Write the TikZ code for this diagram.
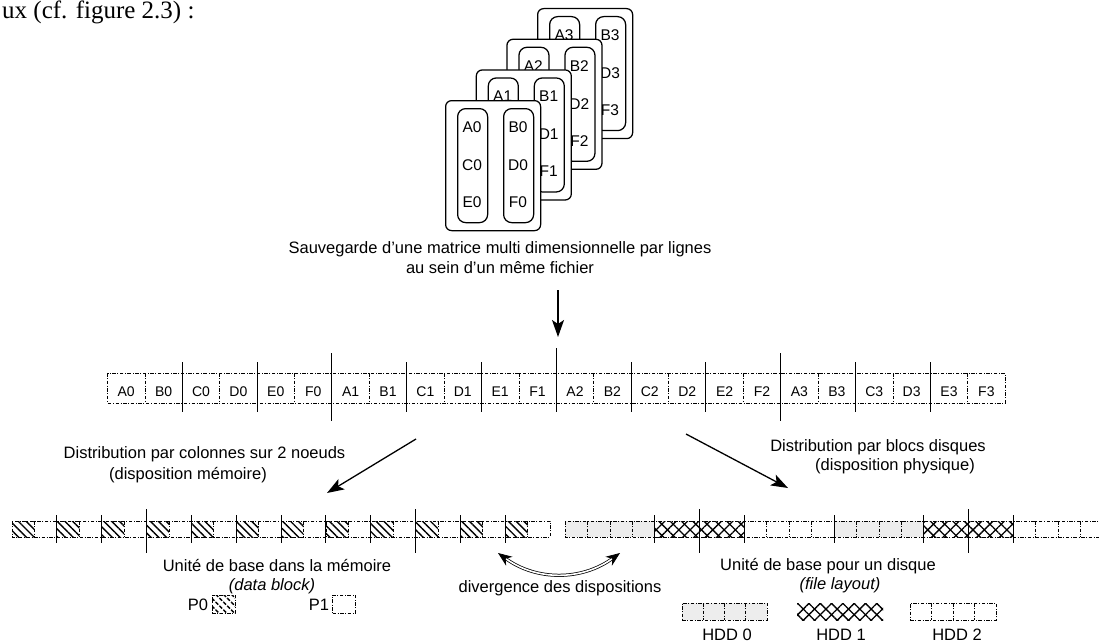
\documentclass[tikz,border=0pt]{standalone}
\usepackage{fontspec}
\setmainfont{Liberation Sans}
\newfontfamily\serifdoc{Liberation Serif}
\usetikzlibrary{arrows.meta,patterns.meta,calc}

\tikzset{
  ddash/.style={line width=0.7pt, dash pattern=on 3.5pt off 1.6pt on 0.9pt off 1.6pt},
  tick/.style={line width=1pt},
  hatch/.style={pattern={Lines[angle=-45,distance=5.5pt,line width=1.4pt]}},
  xhatch/.style={pattern={Lines[angle=45,distance=8pt,line width=1.3pt]},
                 postaction={pattern={Lines[angle=-45,distance=8pt,line width=1.3pt]}}},
  grayfill/.style={fill=black!7},
  txt/.style={font=\fontsize{16.5}{20}\selectfont, inner sep=0pt},
  itxt/.style={font=\fontsize{16.5}{20}\selectfont\itshape, inner sep=0pt},
  cellt/.style={font=\fontsize{14}{16}\selectfont, inner sep=0pt},
  pagelbl/.style={font=\fontsize{15.5}{17}\selectfont, inner sep=0pt},
  sheet/.style={draw, line width=1.25pt, fill=white, rounded corners=6pt,
                minimum width=95pt, minimum height=130pt, inner sep=0pt, anchor=north west},
  column/.style={draw, line width=1.25pt, rounded corners=8pt,
                 minimum width=30pt, minimum height=114pt, inner sep=0pt, anchor=north west},
  legbox/.style={ddash, draw, minimum width=23pt, minimum height=18pt, inner sep=0pt},
  bigarrow/.style={line width=1.3pt, -{Stealth[length=17pt,width=12pt,inset=4pt]}},
  dblarrow/.style={double, double distance=1.6pt, line width=0.75pt,
                   {Stealth[length=14pt,width=11pt]}-{Stealth[length=14pt,width=11pt]}},
}

\begin{document}
\begin{tikzpicture}[x=1pt,y=-1pt]
\useasboundingbox (0,0) rectangle (1099,643);
\clip (0,0) rectangle (1099,643);

% running text of the page above the figure
\node[anchor=base west, inner sep=0pt, font=\serifdoc\fontsize{25}{30}\selectfont] (runin) at (2,18) {ux (cf. figure 2.3) :};

% ---- stacked sheets: one matrix slice per sheet (back to front) ----
\foreach \k in {3,2,1,0} {
  \pgfmathsetmacro\px{445+30.67*\k}
  \pgfmathsetmacro\py{100-30.67*\k}
  \node[sheet]  (pg\k) at (\px,\py) {};
  \node[column] (cl\k) at (\px+12,\py+8) {};
  \node[column] (cr\k) at (\px+58,\py+8) {};
  \node[pagelbl] (la\k) at (\px+27,\py+27)  {A\k};
  \node[pagelbl] (lb\k) at (\px+73,\py+27)  {B\k};
  \node[pagelbl] (ld\k) at (\px+73,\py+65)  {D\k};
  \node[pagelbl] (lf\k) at (\px+73,\py+102) {F\k};
}
% lower cells of the left column, only visible on the front sheet
\node[pagelbl] (lc0) at (472,165) {C0};
\node[pagelbl] (le0) at (472,202) {E0};

\node[txt, align=center] (cap) at (500,258)
  {Sauvegarde d’une matrice multi dimensionnelle par lignes\\au sein d’un même fichier};

\coordinate (va) at (558,290);
\coordinate (vb) at (558,337);
\draw[bigarrow] (va) -- (vb);

% ---- linear file: 24 cells ----
\foreach \t [count=\i from 0] in {A0,B0,C0,D0,E0,F0,A1,B1,C1,D1,E1,F1,A2,B2,C2,D2,E2,F2,A3,B3,C3,D3,E3,F3}
  \node[cellt] (m\i) at (107.5+37.4*\i+18.7,392) {\t};
\draw[ddash] (107.5,373) rectangle (1005,403);
\foreach \i in {1,3,...,23}
  \draw[ddash] (107.5+37.4*\i,373) -- ++(0,30);
\foreach \i/\ya/\yb in {2/362/412,4/362/412,6/353/421,8/362/412,10/362/412,12/348/412,
                        14/362/412,16/362/412,18/353/421,20/362/412,22/362/412}
  \draw[tick] (107.5+37.4*\i,\ya) -- (107.5+37.4*\i,\yb);

% ---- labels and arrows of the two distributions ----
\node[txt] (dl1) at (204.5,454) {Distribution par colonnes sur 2 noeuds};
\node[txt] (dl2) at (188,475) {(disposition mémoire)};
\node[txt] (dr1) at (878,447) {Distribution par blocs disques};
\node[txt] (dr2) at (895,466) {(disposition physique)};
\coordinate (lsa) at (416,439);
\coordinate (lsb) at (327,493);
\draw[bigarrow] (lsa) -- (lsb);
\coordinate (rsa) at (686,434);
\coordinate (rsb) at (788,488);
\draw[bigarrow] (rsa) -- (rsb);

% ---- memory layout: P0 / P1 alternating ----
\foreach \p in {0,...,11}
  \fill[hatch] (12+44.84*\p,521) rectangle ++(22.42,16);
\draw[ddash] (12,521) rectangle (550,537);
\foreach \j in {1,...,23}
  \draw[ddash] (12+22.42*\j,521) -- ++(0,16);
\foreach \j/\ya/\yb in {2/515/543,4/515/543,6/509/553,8/515/543,10/515/543,12/515/543,
                        14/515/543,16/515/543,18/509/553,20/515/543,22/515/543}
  \draw[tick] (12+22.42*\j,\ya) -- (12+22.42*\j,\yb);

% ---- disk layout: HDD 0 / HDD 1 / HDD 2 in blocks of four ----
\fill[grayfill] (565,521) rectangle ++(89.68,16);
\fill[grayfill] (565+12*22.42,521) rectangle ++(89.68,16);
\fill[xhatch] (565+4*22.42,521) rectangle ++(89.68,16);
\fill[xhatch] (565+16*22.42,521) rectangle ++(89.68,16);
\draw[ddash] (565,521) rectangle (1103.1,537);
\foreach \j in {1,2,3,9,10,11,13,14,15,21,22,23}
  \draw[ddash] (565+22.42*\j,521) -- ++(0,16);
\foreach \j/\ya/\yb in {4/515/543,6/509/553,8/515/543,12/515/543,16/515/543,18/509/553,20/515/543}
  \draw[tick] (565+22.42*\j,\ya) -- (565+22.42*\j,\yb);

% ---- legend of the memory layout ----
\node[txt] (ul1) at (277,565) {Unité de base dans la mémoire};
\node[itxt] (ul2) at (272,586) {(data block)};
\node[txt] (p0) at (198,605) {P0};
\node[legbox, hatch] (p0box) at (223.5,604) {};
\node[txt] (p1) at (319,605) {P1};
\node[legbox] (p1box) at (344,604) {};

% ---- divergence between both layouts ----
\node[txt] (div) at (560,588) {divergence des dispositions};
\coordinate (dva) at (498,553);
\coordinate (dvb) at (620,553);
\draw[dblarrow] (dva) to[bend right=36] (dvb);

% ---- legend of the disk layout ----
\node[txt] (ur1) at (828,566) {Unité de base pour un disque};
\node[itxt] (ur2) at (840,585) {(file layout)};
\node[ddash, draw, grayfill, minimum width=85pt, minimum height=17pt, inner sep=0pt] (h0box) at (724.5,611.5) {};
\foreach \j in {1,2,3}
  \draw[ddash] (682+21.25*\j,603) -- ++(0,17);
\node[xhatch, minimum width=86pt, minimum height=17pt, inner sep=0pt] (h1box) at (840,611.5) {};
\node[ddash, draw, minimum width=86pt, minimum height=17pt, inner sep=0pt] (h2box) at (953,611.5) {};
\foreach \j in {1,2,3}
  \draw[ddash] (910+21.5*\j,603) -- ++(0,17);
\node[txt] (hd0) at (727,635) {HDD 0};
\node[txt] (hd1) at (841,635) {HDD 1};
\node[txt] (hd2) at (957,635) {HDD 2};
\end{tikzpicture}
\end{document}
